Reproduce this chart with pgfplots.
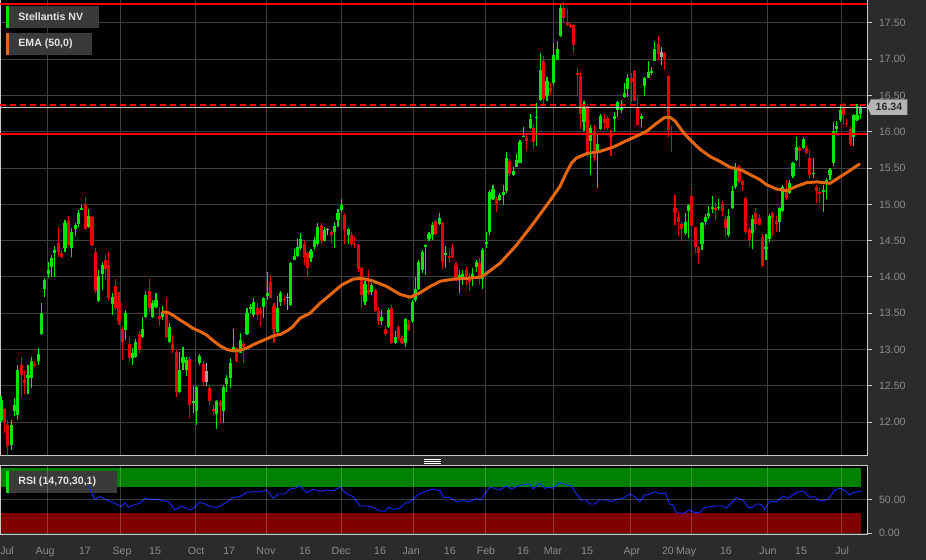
\documentclass[border=0pt]{standalone}
\usepackage{fontspec}
\setmainfont{Liberation Sans}
\usepackage{pgfplots}
\pgfplotsset{compat=1.18}
\usepackage{pgfplotstable}

\definecolor{bgdark}{RGB}{43,43,43}
\definecolor{gridgray}{RGB}{62,62,62}
\definecolor{framegray}{RGB}{200,200,200}
\definecolor{labelgray}{RGB}{140,140,140}
\definecolor{boxgray}{RGB}{58,58,58}
\definecolor{boxtext}{RGB}{228,228,228}
\definecolor{upgreen}{RGB}{0,230,0}
\definecolor{downred}{RGB}{235,0,0}
\definecolor{flatgray}{RGB}{165,165,165}
\definecolor{lvlred}{RGB}{255,0,0}
\definecolor{emaorange}{RGB}{230,102,16}
\definecolor{rsiblue}{RGB}{20,40,255}
\definecolor{bandgreen}{RGB}{0,128,0}
\definecolor{bandred}{RGB}{128,0,0}

% daily candles: index, type (1 up, -1 down, 0 flat), open high low close
\pgfplotstableread{
k t O H L C
1 1 12.03 12.36 12.00 12.31
2 -1 12.18 12.20 11.85 12.01
3 -1 11.96 12.03 11.55 11.67
4 1 11.69 12.03 11.62 11.96
5 1 12.15 12.33 12.08 12.24
6 1 12.10 12.79 12.03 12.72
7 -1 12.79 12.90 12.35 12.65
8 -1 12.58 12.72 12.38 12.54
9 1 12.61 12.79 12.38 12.65
10 1 12.61 12.90 12.47 12.84
11 -1 12.80 12.84 12.76 12.78
12 1 12.84 13.02 12.79 12.94
13 1 13.22 13.64 13.20 13.50
14 1 13.84 13.98 13.73 13.96
15 1 14.04 14.21 13.98 14.10
16 1 14.14 14.30 14.00 14.27
17 1 14.34 14.42 14.00 14.37
18 -1 14.47 14.69 14.28 14.35
19 -1 14.33 14.37 14.26 14.28
20 1 14.40 14.79 14.35 14.75
21 -1 14.78 14.84 14.42 14.44
22 1 14.40 14.67 14.28 14.63
23 1 14.67 14.74 14.56 14.72
24 1 14.74 14.92 14.69 14.88
25 1 14.93 14.99 14.92 14.95
26 -1 14.99 15.10 14.64 14.66
27 1 14.69 14.93 14.67 14.84
28 -1 14.83 14.84 14.43 14.44
29 -1 14.35 14.40 13.78 13.81
30 1 13.67 14.10 13.65 14.01
31 1 14.04 14.21 13.82 14.17
32 -1 14.24 14.30 13.96 14.11
33 -1 14.17 14.35 13.68 13.71
34 1 13.63 13.78 13.48 13.73
35 -1 13.88 13.97 13.55 13.57
36 -1 13.66 13.79 13.34 13.39
37 -1 13.29 13.32 12.86 13.11
38 1 13.27 13.55 13.13 13.50
39 -1 13.08 13.18 12.84 12.89
40 1 12.88 13.02 12.79 12.95
41 1 12.90 13.15 12.88 13.11
42 -1 13.22 13.25 12.95 12.99
43 1 13.18 13.45 13.16 13.28
44 1 13.45 13.80 13.43 13.76
45 -1 13.81 13.97 13.52 13.57
46 1 13.45 13.68 13.43 13.65
47 1 13.59 13.78 13.57 13.69
48 -1 13.46 13.59 13.32 13.43
49 1 13.45 13.60 13.41 13.52
50 -1 13.53 13.71 13.16 13.17
51 1 13.11 13.36 13.09 13.31
52 -1 13.08 13.20 12.95 12.99
53 -1 12.97 12.99 12.35 12.42
54 1 12.42 12.97 12.40 12.72
55 1 12.82 13.04 12.72 12.90
56 1 12.72 12.90 12.63 12.86
57 -1 12.87 12.89 12.06 12.24
58 1 12.27 12.49 12.12 12.29
59 1 12.15 12.50 11.96 12.49
60 1 12.82 12.94 12.79 12.92
61 -1 12.80 12.84 12.49 12.56
62 0 12.71 12.81 12.49 12.56
63 -1 12.48 12.51 12.22 12.30
64 -1 12.19 12.24 12.10 12.15
65 1 12.12 12.31 11.90 12.29
66 -1 12.28 12.31 11.99 12.22
67 1 12.16 12.51 11.99 12.49
68 1 12.53 12.65 12.42 12.61
69 1 12.61 12.88 12.47 12.82
70 1 13.00 13.28 12.97 13.04
71 -1 13.03 13.04 12.82 12.84
72 1 12.96 13.23 12.95 13.13
73 -1 13.08 13.10 12.82 13.04
74 1 13.22 13.57 13.20 13.50
75 1 13.56 13.63 13.50 13.59
76 1 13.48 13.71 13.45 13.66
77 -1 13.57 13.64 13.41 13.48
78 -1 13.55 13.58 13.32 13.49
79 1 13.59 13.73 13.43 13.71
80 1 13.74 14.07 13.68 13.78
81 -1 13.94 14.03 13.71 13.72
82 -1 13.60 13.64 13.09 13.28
83 1 13.25 13.74 13.22 13.58
84 1 13.66 13.80 13.60 13.78
85 -1 13.70 13.75 13.62 13.68
86 0 13.71 13.78 13.55 13.71
87 1 13.62 14.21 13.60 14.19
88 1 14.24 14.39 14.23 14.29
89 1 14.29 14.53 14.27 14.41
90 1 14.40 14.60 14.37 14.53
91 -1 14.46 14.49 14.17 14.28
92 -1 14.33 14.35 14.00 14.13
93 1 14.26 14.39 14.21 14.36
94 1 14.42 14.55 14.37 14.51
95 1 14.46 14.75 14.42 14.69
96 -1 14.72 14.74 14.46 14.50
97 1 14.50 14.69 14.49 14.65
98 0 14.65 14.67 14.58 14.65
99 -1 14.62 14.65 14.46 14.58
100 1 14.62 14.76 14.40 14.71
101 1 14.79 14.93 14.69 14.88
102 1 14.93 15.07 14.90 15.00
103 -1 14.86 14.88 14.46 14.65
104 1 14.58 14.67 14.46 14.66
105 -1 14.58 14.62 14.42 14.46
106 -1 14.46 14.55 14.40 14.44
107 -1 14.45 14.46 14.07 14.12
108 -1 14.13 14.13 13.57 13.75
109 1 13.66 13.94 13.61 13.91
110 -1 13.83 14.10 13.75 13.78
111 1 13.80 13.91 13.75 13.89
112 -1 13.82 13.83 13.52 13.54
113 -1 13.54 13.59 13.34 13.39
114 1 13.39 13.55 13.34 13.45
115 -1 13.28 13.32 13.19 13.22
116 1 13.32 13.57 13.30 13.55
117 -1 13.58 13.62 13.07 13.09
118 1 13.10 13.25 13.08 13.17
119 -1 13.32 13.34 13.13 13.16
120 -1 13.16 13.19 13.07 13.10
121 1 13.09 13.43 13.04 13.42
122 -1 13.36 13.41 13.25 13.27
123 1 13.39 13.68 13.36 13.66
124 1 13.68 14.00 13.66 13.84
125 1 13.84 14.23 13.82 14.21
126 1 14.10 14.37 14.05 14.35
127 1 14.42 14.46 14.03 14.44
128 1 14.52 14.62 14.49 14.59
129 1 14.58 14.76 14.51 14.72
130 -1 14.78 14.79 14.58 14.60
131 1 14.74 14.88 14.72 14.81
132 -1 14.75 14.76 14.11 14.21
133 1 14.30 14.42 14.12 14.33
134 -1 14.29 14.37 14.19 14.26
135 -1 14.40 14.46 14.26 14.28
136 -1 14.17 14.21 13.94 13.98
137 1 13.98 14.09 13.78 14.03
138 1 14.00 14.09 13.89 14.04
139 -1 14.10 14.13 13.89 14.00
140 -1 14.00 14.05 13.80 13.94
141 1 14.00 14.12 13.87 14.05
142 1 14.14 14.23 14.07 14.21
143 -1 14.19 14.26 13.89 14.00
144 1 13.98 14.40 13.84 14.38
145 1 14.46 14.62 14.40 14.49
146 1 14.62 15.20 14.58 15.17
147 1 15.08 15.27 15.06 15.22
148 -1 15.08 15.10 14.90 15.01
149 1 15.06 15.15 15.04 15.13
150 1 15.13 15.27 14.99 15.17
151 1 15.19 15.72 15.16 15.64
152 -1 15.60 15.62 15.39 15.42
153 1 15.41 15.51 15.39 15.47
154 1 15.52 15.70 15.51 15.61
155 1 15.58 15.89 15.57 15.87
156 1 15.93 16.07 15.93 15.95
157 -1 15.92 15.97 15.75 15.88
158 1 16.06 16.24 16.04 16.18
159 -1 16.06 16.11 15.76 15.86
160 1 16.19 16.40 15.81 16.21
161 1 16.44 17.08 16.43 16.86
162 -1 16.98 17.04 16.39 16.46
163 1 16.50 16.76 16.43 16.71
164 -1 16.61 16.67 16.51 16.56
165 1 16.68 17.23 16.64 17.06
166 1 16.99 17.25 16.99 17.15
167 1 17.32 17.75 17.31 17.71
168 -1 17.71 17.79 17.50 17.57
169 -1 17.50 17.69 17.46 17.48
170 -1 17.48 17.50 17.43 17.45
171 -1 17.48 17.49 17.08 17.20
172 -1 16.80 16.88 16.50 16.79
173 -1 16.78 16.83 16.04 16.25
174 1 16.14 16.43 16.01 16.35
175 -1 16.36 16.38 15.65 15.72
176 1 15.88 16.10 15.40 16.06
177 -1 16.02 16.10 15.60 15.65
178 1 15.72 15.95 15.22 15.84
179 1 16.04 16.24 16.02 16.22
180 -1 16.18 16.24 16.02 16.13
181 -1 16.19 16.22 16.02 16.06
182 -1 15.99 16.03 15.67 15.93
183 1 16.18 16.27 16.00 16.22
184 1 16.30 16.43 16.20 16.42
185 1 16.30 16.44 16.26 16.35
186 1 16.48 16.67 16.47 16.54
187 1 16.60 16.80 16.48 16.75
188 -1 16.75 16.81 16.41 16.69
189 -1 16.84 16.85 16.42 16.43
190 -1 16.35 16.48 16.09 16.10
191 1 16.18 16.24 16.07 16.22
192 1 16.64 16.76 16.50 16.74
193 1 16.75 16.97 16.74 16.83
194 1 16.81 16.89 16.79 16.84
195 1 16.98 17.24 16.97 17.15
196 -1 17.22 17.32 16.99 17.08
197 0 17.10 17.17 16.92 17.04
198 -1 17.09 17.10 16.85 17.01
199 -1 16.77 16.78 15.93 16.03
200 -1 15.99 16.08 15.72 15.97
201 -1 14.96 15.13 14.72 14.89
202 -1 14.83 14.90 14.57 14.76
203 -1 14.73 14.76 14.50 14.67
204 1 14.61 14.88 14.58 14.76
205 1 14.91 15.01 14.53 14.99
206 -1 15.12 15.25 14.69 14.70
207 -1 14.69 14.69 14.33 14.41
208 -1 14.42 14.43 14.18 14.33
209 1 14.46 14.76 14.37 14.75
210 1 14.76 14.87 14.71 14.83
211 1 14.85 14.98 14.80 14.88
212 1 14.94 15.12 14.88 14.97
213 -1 14.96 15.02 14.79 14.92
214 1 14.95 15.07 14.92 14.96
215 -1 14.99 15.04 14.84 14.91
216 -1 14.80 14.84 14.57 14.68
217 1 14.58 14.94 14.55 14.85
218 1 14.95 15.25 14.93 15.19
219 1 15.25 15.57 15.21 15.49
220 -1 15.52 15.54 15.29 15.32
221 -1 15.32 15.33 15.18 15.27
222 -1 15.09 15.10 14.59 14.62
223 -1 14.66 14.69 14.42 14.51
224 1 14.61 14.85 14.39 14.80
225 -1 14.88 14.95 14.65 14.74
226 -1 14.82 14.87 14.71 14.72
227 -1 14.56 14.59 14.14 14.15
228 1 14.39 14.59 14.23 14.41
229 1 14.53 14.87 14.48 14.85
230 -1 14.88 14.89 14.57 14.82
231 -1 14.78 14.84 14.62 14.73
232 1 14.76 14.97 14.62 14.95
233 1 14.91 15.27 14.90 15.25
234 -1 15.18 15.33 15.06 15.09
235 1 15.16 15.34 15.14 15.30
236 1 15.39 15.59 15.37 15.57
237 1 15.62 15.93 15.60 15.79
238 -1 15.78 15.80 15.52 15.74
239 1 15.78 15.93 15.76 15.91
240 -1 15.78 15.80 15.69 15.71
241 -1 15.65 15.75 15.37 15.41
242 1 15.42 15.64 15.36 15.43
243 -1 15.25 15.27 15.02 15.19
244 -1 15.18 15.23 15.02 15.15
245 1 15.18 15.27 14.90 15.20
246 1 15.29 15.36 15.07 15.34
247 1 15.41 15.50 15.34 15.48
248 1 15.57 16.13 15.53 16.02
249 1 16.04 16.15 15.98 16.09
250 1 16.17 16.35 16.14 16.30
251 -1 16.35 16.40 16.09 16.23
252 -1 16.13 16.17 16.06 16.11
253 -1 16.04 16.06 15.81 15.84
254 1 15.93 16.25 15.81 16.23
255 1 16.17 16.38 16.15 16.23
256 1 16.25 16.39 16.18 16.34
}\candles

\pgfplotstableread{
k v
48.7 13.52
50.5 13.51
52.1 13.47
54.0 13.41
56.1 13.35
58.0 13.29
60.0 13.25
62.0 13.20
64.0 13.12
66.0 13.05
68.0 13.00
70.0 12.98
72.0 12.99
74.0 13.02
76.0 13.07
78.0 13.11
80.0 13.15
82.0 13.19
84.0 13.21
86.0 13.26
87.5 13.31
89.7 13.43
92.7 13.50
95.7 13.64
98.6 13.75
102.1 13.89
105.5 13.97
108.0 13.98
111.0 13.95
115.4 13.87
119.4 13.76
122.4 13.72
125.3 13.78
128.0 13.86
131.3 13.94
135.2 13.97
139.2 13.98
143.6 14.00
145.1 14.05
149.1 14.19
154.0 14.44
159.0 14.74
163.9 15.05
166.9 15.25
168.9 15.45
170.3 15.57
171.8 15.64
174.8 15.70
178.7 15.73
182.7 15.79
186.7 15.88
189.6 15.94
192.6 16.01
195.6 16.12
198.0 16.20
199.5 16.20
201.0 16.15
203.5 15.99
205.5 15.89
208.4 15.76
211.4 15.66
214.4 15.59
217.4 15.51
220.8 15.47
223.3 15.41
226.2 15.34
228.2 15.27
231.2 15.21
234.1 15.19
237.1 15.25
240.1 15.30
243.1 15.31
247.0 15.29
250.0 15.38
253.0 15.47
255.9 15.56
}\ema

\pgfplotstableread{
k v
26.9 71.2
28.9 51.0
30.4 55.1
32.4 50.0
34.3 46.0
36.8 39.9
37.8 46.0
38.8 38.9
40.3 42.4
42.2 45.0
43.7 52.5
45.2 51.0
47.2 51.0
49.2 49.0
50.7 47.5
52.6 34.9
54.6 40.9
57.1 34.9
58.1 37.4
59.9 46.5
61.5 44.0
63.0 39.9
65.0 38.9
66.5 42.4
69.0 50.0
69.9 54.0
71.9 55.1
73.9 61.6
75.9 62.6
77.9 62.1
79.8 65.1
81.8 52.5
83.3 59.1
85.3 59.1
86.8 66.7
88.2 67.7
89.7 71.2
91.7 61.1
93.7 66.2
95.7 63.1
97.6 65.1
99.6 64.1
101.6 69.2
103.6 59.1
105.5 55.1
107.5 40.9
109.5 40.9
111.5 38.9
113.0 33.8
114.9 32.8
115.9 38.9
117.4 35.9
119.4 37.4
120.9 45.0
122.4 47.5
123.8 54.0
125.3 60.1
127.3 63.6
129.3 66.7
131.3 64.1
132.2 54.0
134.2 54.0
136.2 47.5
138.1 49.0
140.1 47.5
142.0 52.5
143.5 50.0
144.5 59.1
146.0 69.2
147.5 67.7
149.0 65.1
150.9 71.2
152.4 66.7
154.4 71.2
155.9 73.2
157.9 74.3
158.9 66.7
160.8 75.3
162.3 67.7
163.8 69.2
164.8 67.7
166.8 76.3
168.3 73.7
170.2 71.2
171.7 60.1
173.2 50.0
174.7 50.0
175.7 44.0
177.2 44.0
178.6 50.0
180.6 50.0
182.1 47.5
183.6 51.0
185.6 52.5
187.5 59.1
189.0 55.1
190.5 47.5
192.0 57.6
193.5 58.6
195.0 62.6
196.4 60.1
198.2 60.1
199.4 44.0
200.4 42.4
201.4 30.8
203.4 29.8
205.4 34.9
206.8 30.8
208.3 30.8
209.3 37.4
211.3 39.9
213.3 40.9
215.2 40.9
216.2 37.4
217.2 42.4
219.2 53.5
221.2 50.0
222.7 38.9
224.1 38.9
225.1 44.0
226.6 43.4
227.6 35.9
229.1 47.5
231.1 47.5
233.0 56.1
234.5 52.5
237.0 61.1
239.0 63.6
241.0 54.0
242.4 55.1
243.9 48.5
245.9 50.0
246.9 53.5
248.4 65.1
249.9 67.7
251.3 65.1
252.8 57.6
253.8 61.1
256.3 63.6
}\rsi

\tikzset{
  lblfont/.style={font=\fontsize{5.3}{6}\selectfont},
  boldlbl/.style={font=\bfseries\fontsize{5.3}{6}\selectfont},
}
% one colour of candles, drawn as vertical quiver segments:
% colour, type range low, type range high
\newcommand{\candleset}[3]{%
  \addplot[#1, mark=none, forget plot, restrict expr to domain={\thisrow{t}}{#2:#3},
    quiver={u=0, v=\thisrow{H}-\thisrow{L},
            every arrow/.append style={line width=0.55pt}}]
    table[x=k, y=L] {\candles};
  \addplot[#1, mark=none, forget plot, restrict expr to domain={\thisrow{t}}{#2:#3},
    quiver={u=0, v={max(abs(\thisrow{C}-\thisrow{O}),0.018)},
            every arrow/.append style={line width=1.55pt}}]
    table[x=k, y expr={min(\thisrow{O},\thisrow{C})-0.004}] {\candles};
}

\begin{document}
\begin{tikzpicture}
\fill[bgdark] (0,0) rectangle (463pt,280pt);
\useasboundingbox (0,0) rectangle (463pt,280pt);

% price panel
\begin{axis}[
    at={(0pt,52pt)}, anchor=south west,
    scale only axis, width=433.5pt, height=228pt,
    xmin=0.703, xmax=257.97, ymin=11.532, ymax=17.817,
    axis background/.style={fill=black},
    axis line style={draw=framegray, line width=0.5pt},
    xtick={14.65,36.6,58.6,79.9,101.9,123.3,144.9,164.8,187.9,205.9,228.3,250.3},
    xticklabels={}, xtick style={draw=none},
    ytick={12,12.5,13,13.5,14,14.5,15,15.5,16,16.5,17,17.5},
    yticklabels={12.00,12.50,13.00,13.50,14.00,14.50,15.00,15.50,16.00,16.50,17.00,17.50},
    ytick pos=right, yticklabel pos=right, tick align=outside,
    major tick length=2.5pt,
    ytick style={draw=framegray, line width=0.5pt},
    grid=major, major grid style={draw=gridgray, line width=0.5pt},
    yticklabel style={lblfont, text=labelgray},
]
\candleset{upgreen}{0.5}{1.5}
\candleset{downred}{-1.5}{-0.5}
\candleset{flatgray}{-0.5}{0.5}
\addplot[lvlred, line width=1pt] coordinates {(0.703,17.762) (257.97,17.762)};
\addplot[framegray, line width=0.5pt] coordinates {(0.703,16.34) (257.97,16.34)};
\addplot[lvlred, line width=1pt, dash pattern=on 3pt off 2pt] coordinates {(0.703,16.37) (257.97,16.37)};
\addplot[lvlred, line width=1pt] coordinates {(0.703,15.97) (257.97,15.97)};
\addplot[emaorange, line width=1.5pt, line join=round] table[x=k, y=v] {\ema};
\end{axis}

% RSI panel
\begin{axis}[
    at={(0pt,12.5pt)}, anchor=south west,
    scale only axis, width=433.5pt, height=34.5pt,
    xmin=0.703, xmax=257.97, ymin=-3, ymax=101.5,
    axis background/.style={fill=black},
    axis line style={draw=framegray, line width=0.5pt},
    axis on top,
    xtick={2.8,14.1,25.9,36.9,46.7,58.9,68.7,79.6,91.2,101.9,113.5,122.7,134.2,144.9,155.9,164.8,174.9,188.2,198.9,204.3,216.1,228.6,238.4,250.6},
    xticklabels={Jul,Aug,17,Sep,15,Oct,17,Nov,16,Dec,16,Jan,16,Feb,16,Mar,15,Apr,20,May,16,Jun,15,Jul},
    xtick style={draw=none},
    extra x ticks={14.65,36.6,58.6,79.9,101.9,123.3,144.9,164.8,187.9,205.9,228.3,250.3},
    extra x tick labels={}, extra x tick style={grid=major},
    ytick={0,50}, yticklabels={0.00,50.00}, ymajorgrids,
    ytick pos=right, yticklabel pos=right, tick align=outside,
    major tick length=2.5pt,
    ytick style={draw=framegray, line width=0.5pt},
    major grid style={draw=white, opacity=0.22, line width=0.5pt},
    xticklabel style={lblfont, text=labelgray},
    yticklabel style={lblfont, text=labelgray},
]
\addplot[fill=bandgreen, draw=none] coordinates {(0.703,70) (256.2,70) (256.2,98) (0.703,98)} --cycle;
\addplot[fill=bandred, draw=none] coordinates {(0.703,0) (256.2,0) (256.2,30) (0.703,30)} --cycle;
\fill[boxgray] (axis cs:2.48,60.6) rectangle (axis cs:35.42,93.9);
\fill[upgreen] (axis cs:2.48,60.6) rectangle (axis cs:3.37,93.9);
\node[anchor=west, text=boxtext, boldlbl, inner sep=0pt] at (axis cs:6.04,77.3) {RSI (14,70,30,1)};
\addplot[rsiblue, line width=0.45pt] table[x=k, y=v] {\rsi};
\end{axis}

% legend boxes of the price panel
\fill[boxgray] (3pt,266pt) rectangle (49.5pt,277pt);
\fill[upgreen] (3pt,266pt) rectangle (4.5pt,277pt);
\node[anchor=west, text=boxtext, boldlbl, inner sep=0pt] at (9pt,271.5pt) {Stellantis NV};
\fill[boxgray] (3pt,252.5pt) rectangle (46pt,263.5pt);
\fill[emaorange] (3pt,252.5pt) rectangle (4.5pt,263.5pt);
\node[anchor=west, text=boxtext, boldlbl, inner sep=0pt] at (9pt,258pt) {EMA (50,0)};

% last price tag
\fill[framegray!90!black] (433.75pt,226.4pt) -- (435.5pt,230.35pt) -- (453.65pt,230.35pt) -- (453.65pt,222.5pt) -- (435.5pt,222.5pt) -- cycle;
\node[text=bgdark, boldlbl, inner sep=0pt] at (444.5pt,226.4pt) {16.34};

% panel separator handle
\draw[white, line width=0.4pt] (212pt,50.25pt) -- (220.5pt,50.25pt)
  (212pt,49.25pt) -- (220.5pt,49.25pt) (212pt,48.25pt) -- (220.5pt,48.25pt);
\end{tikzpicture}
\end{document}
